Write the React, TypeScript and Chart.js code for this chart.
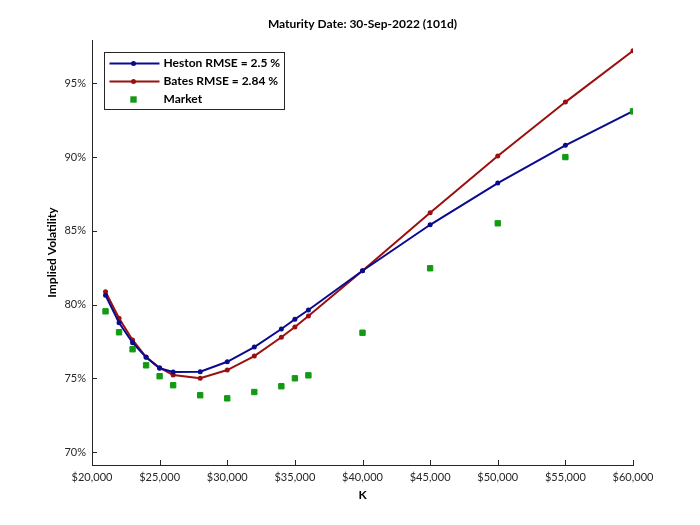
import React, { useEffect, useRef } from "react";
import { Chart, registerables } from "chart.js";

Chart.register(...registerables);

const strikes = [21000, 22000, 23000, 24000, 25000, 26000, 28000, 30000, 32000, 34000, 35000, 36000, 40000, 45000, 50000, 55000, 60000];
const hestonIV = [80.63, 78.77, 77.41, 76.42, 75.68, 75.43, 75.45, 76.12, 77.12, 78.34, 79.0, 79.63, 82.29, 85.41, 88.24, 90.8, 93.12];
const batesIV = [80.87, 79.07, 77.6, 76.44, 75.72, 75.22, 75.0, 75.56, 76.51, 77.78, 78.48, 79.22, 82.29, 86.23, 90.07, 93.73, 97.21];
const marketIV = [79.54, 78.12, 76.97, 75.88, 75.14, 74.53, 73.85, 73.64, 74.07, 74.46, 75.0, 75.2, 78.09, 82.46, 85.51, 90.0, 93.1];

const xTicks = [20000, 25000, 30000, 35000, 40000, 45000, 50000, 55000, 60000];
const yTicks = [70, 75, 80, 85, 90, 95];

const titleText = "Maturity Date: 30-Sep-2022 (101d)";
const labels = ["Heston RMSE = 2.5 %", "Bates RMSE = 2.84 %", "Market"];

const FONT = "Lato";
const AXIS_COLOR = "#262626";

const inwardTicks = {
  id: "inwardTicks",
  afterDraw(chart: any) {
    const { ctx, chartArea, scales } = chart;
    ctx.save();
    ctx.strokeStyle = AXIS_COLOR;
    ctx.lineWidth = 1;
    ctx.beginPath();
    scales.x.ticks.forEach((t: any) => {
      const px = Math.round(scales.x.getPixelForValue(t.value)) + 0.5;
      ctx.moveTo(px, chartArea.bottom);
      ctx.lineTo(px, chartArea.bottom - 5);
    });
    scales.y.ticks.forEach((t: any) => {
      const py = Math.round(scales.y.getPixelForValue(t.value)) + 0.5;
      ctx.moveTo(chartArea.left, py);
      ctx.lineTo(chartArea.left + 5, py);
    });
    ctx.stroke();
    ctx.restore();
  },
};

const boxLegend = {
  id: "boxLegend",
  afterDraw(chart: any) {
    const { ctx, chartArea } = chart;
    const bx = Math.round(chartArea.left + 12) + 0.5;
    const by = Math.round(chartArea.top + 12) + 0.5;
    const bw = 180;
    const bh = 57;
    ctx.save();
    ctx.fillStyle = "#ffffff";
    ctx.fillRect(bx, by, bw, bh);
    ctx.strokeStyle = AXIS_COLOR;
    ctx.lineWidth = 1;
    ctx.strokeRect(bx, by, bw, bh);
    const rows = [11, 29, 47];
    chart.data.datasets.forEach((ds: any, i: number) => {
      const y = by + rows[i];
      const mx = bx + 29;
      if (ds.showLine !== false) {
        ctx.strokeStyle = ds.borderColor;
        ctx.lineWidth = ds.borderWidth;
        ctx.beginPath();
        ctx.moveTo(bx + 5, y);
        ctx.lineTo(bx + 55, y);
        ctx.stroke();
        ctx.fillStyle = ds.pointBackgroundColor;
        ctx.beginPath();
        ctx.arc(mx, y, ds.pointRadius, 0, Math.PI * 2);
        ctx.fill();
      } else {
        const s = ds.pointRadius * Math.SQRT1_2;
        ctx.fillStyle = ds.pointBackgroundColor;
        ctx.fillRect(mx - s - 0.5, y - s - 0.5, 2 * s + 1, 2 * s + 1);
      }
      ctx.fillStyle = "#000000";
      ctx.font = `bold 12px ${FONT}`;
      ctx.textAlign = "left";
      ctx.textBaseline = "middle";
      ctx.fillText(ds.label, bx + 59, y);
    });
    ctx.restore();
  },
};

export default function App() {
  const ref = useRef<HTMLCanvasElement | null>(null);

  useEffect(() => {
    document.body.style.margin = "0";
    const canvas = ref.current;
    if (!canvas) return;
    Chart.defaults.font.family = FONT;

    const chart = new Chart(canvas, {
      type: "line",
      data: {
        datasets: [
          {
            label: labels[0],
            data: strikes.map((k, i) => ({ x: k, y: hestonIV[i] })),
            borderColor: "#0a0a90",
            backgroundColor: "#0a0a90",
            pointBackgroundColor: "#0a0a90",
            pointBorderColor: "#0a0a90",
            borderWidth: 2,
            pointRadius: 2.5,
            pointBorderWidth: 0,
            tension: 0,
            order: 1,
          },
          {
            label: labels[1],
            data: strikes.map((k, i) => ({ x: k, y: batesIV[i] })),
            borderColor: "#9c0f0f",
            backgroundColor: "#9c0f0f",
            pointBackgroundColor: "#9c0f0f",
            pointBorderColor: "#9c0f0f",
            borderWidth: 2,
            pointRadius: 2.5,
            pointBorderWidth: 0,
            tension: 0,
            order: 2,
          },
          {
            label: labels[2],
            data: strikes.map((k, i) => ({ x: k, y: marketIV[i] })),
            showLine: false,
            borderColor: "#129a12",
            backgroundColor: "#129a12",
            pointBackgroundColor: "#129a12",
            pointBorderColor: "#129a12",
            pointStyle: "rect",
            pointRadius: 3.8,
            pointBorderWidth: 1,
            order: 0,
          },
        ],
      },
      options: {
        animation: false,
        responsive: false,
        devicePixelRatio: 1,
        layout: { padding: { left: 0, right: 67, top: 0, bottom: 0 } },
        plugins: {
          legend: { display: false },
          tooltip: { enabled: false },
          title: {
            display: true,
            text: titleText,
            fullSize: false,
            color: "#000000",
            font: { family: FONT, size: 12, weight: "bold" },
            padding: { top: 17, bottom: 8.6 },
          },
        },
        scales: {
          x: {
            type: "linear",
            min: 20000,
            max: 60000,
            afterBuildTicks: (s: any) => {
              s.ticks = xTicks.map((v) => ({ value: v }));
            },
            afterFit: (s: any) => {
              s.height = 60;
            },
            ticks: {
              color: AXIS_COLOR,
              font: { family: FONT, size: 11 },
              padding: 6,
              maxRotation: 0,
              callback: (v: any) => "$" + Number(v).toLocaleString("en-US"),
            },
            grid: { drawOnChartArea: false, drawTicks: false },
            border: { display: true, color: AXIS_COLOR, width: 1 },
            title: {
              display: true,
              text: "K",
              color: "#000000",
              font: { family: FONT, size: 12, weight: "bold" },
              padding: { top: 0, bottom: 23 },
            },
          },
          y: {
            type: "linear",
            min: 69.12,
            max: 97.94,
            afterBuildTicks: (s: any) => {
              s.ticks = yTicks.map((v) => ({ value: v }));
            },
            afterFit: (s: any) => {
              s.width = 92;
            },
            ticks: {
              color: AXIS_COLOR,
              font: { family: FONT, size: 11 },
              padding: 6,
              callback: (v: any) => `${v}%`,
            },
            grid: { drawOnChartArea: false, drawTicks: false },
            border: { display: true, color: AXIS_COLOR, width: 1 },
            title: {
              display: true,
              text: "Implied Volatility",
              color: "#000000",
              font: { family: FONT, size: 12, weight: "bold" },
              padding: { top: 45, bottom: 0 },
            },
          },
        },
      },
      plugins: [inwardTicks, boxLegend],
    });
    return () => chart.destroy();
  }, []);

  return (
    <div style={{ width: 700, height: 525, background: "#ffffff" }}>
      <canvas ref={ref} width={700} height={525} style={{ display: "block" }} />
    </div>
  );
}
